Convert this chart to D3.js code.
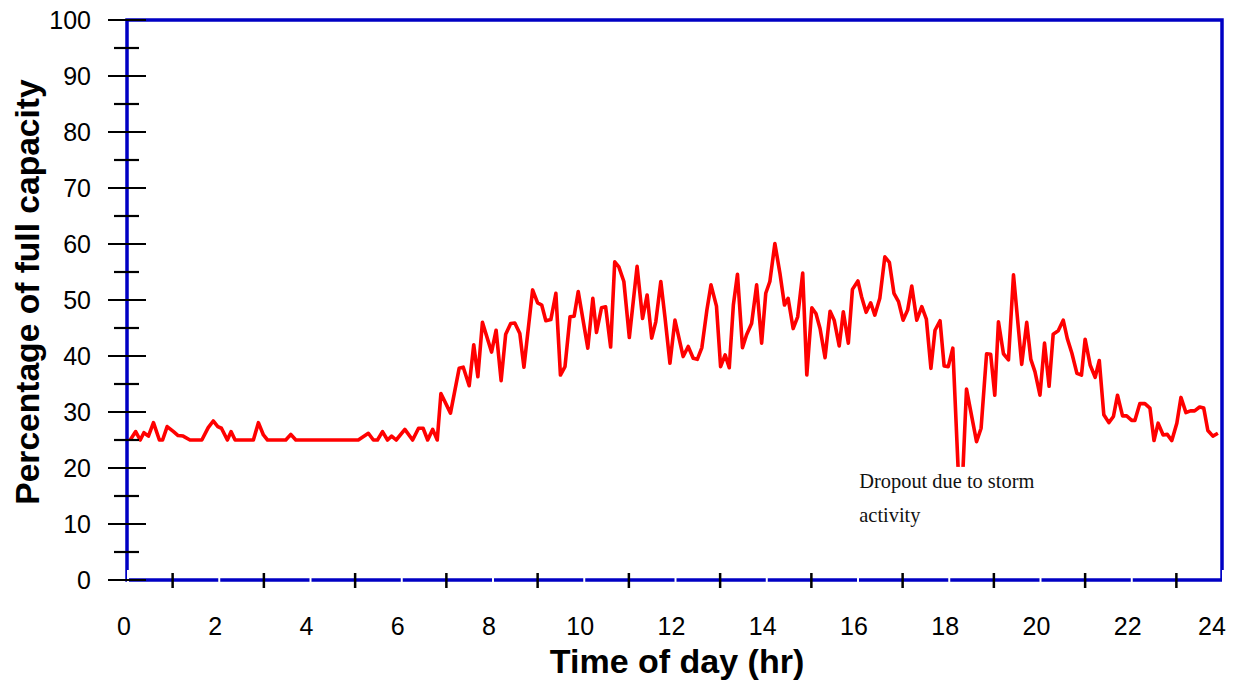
<!DOCTYPE html>
<html>
<head>
<meta charset="utf-8">
<title></title>
<style type="text/css">
    body{
        padding:0;
        margin:0;
        overflow:hidden;
        background:#fff;
    }
</style>
</head>
<body>
<div id="chart"></div>
<script src="https://cdn.jsdelivr.net/npm/d3@7"></script>
<script type="text/javascript">

// time of day (hr) and percentage of full capacity
var hours = [0.07,0.19,0.29,0.37,0.47,0.58,0.71,0.78,0.88,1.02,1.12,1.23,1.38,1.64,1.78,1.89,1.99,2.07,2.20,2.28,
    2.37,2.77,2.88,2.99,3.08,3.48,3.59,3.70,5.07,5.29,5.40,5.49,5.60,5.71,5.80,5.90,6.09,6.26,6.39,6.49,
    6.59,6.70,6.80,6.88,7.09,7.28,7.37,7.50,7.60,7.69,7.79,7.99,8.09,8.20,8.30,8.41,8.50,8.61,8.70,8.89,
    9.00,9.09,9.18,9.29,9.40,9.50,9.60,9.71,9.80,9.89,10.10,10.21,10.29,10.40,10.49,10.60,10.69,10.78,10.89,11.01,
    11.18,11.30,11.40,11.50,11.59,11.70,11.79,11.90,12.01,12.19,12.30,12.41,12.50,12.60,12.71,12.80,12.92,13.01,13.11,13.20,
    13.29,13.38,13.49,13.58,13.69,13.80,13.91,14.00,14.09,14.20,14.31,14.41,14.49,14.60,14.70,14.81,14.90,15.01,15.10,15.19,
    15.30,15.41,15.50,15.61,15.70,15.81,15.90,16.02,16.10,16.20,16.30,16.39,16.50,16.61,16.71,16.81,16.91,17.01,17.11,17.20,
    17.31,17.42,17.52,17.62,17.71,17.82,17.91,18.00,18.10,18.27,18.40,18.62,18.72,18.84,18.93,19.02,19.10,19.21,19.32,19.43,
    19.61,19.72,19.81,19.90,20.01,20.11,20.21,20.30,20.41,20.52,20.61,20.71,20.82,20.92,21.00,21.11,21.22,21.31,21.41,21.52,
    21.62,21.71,21.82,21.91,22.02,22.09,22.20,22.31,22.42,22.51,22.60,22.71,22.80,22.90,23.01,23.10,23.21,23.31,23.40,23.51,
    23.60,23.69,23.80,23.91];

var capacity = [25,26.5,25,26.3,25.7,28.1,25,25,27.4,26.5,25.8,25.7,25,25,27.2,28.4,27.4,27.1,25,26.5,
    25,25,28.1,25.9,25,25,26,25,25,26.2,25,25,26.5,25,25.7,25,26.9,25,27.1,27.1,
    25,26.9,25,33.3,29.8,37.8,38,34.7,42,36.3,46,40.7,44.6,35.6,43.9,45.8,45.9,44,38,51.8,
    49.5,49.1,46.3,46.5,51.2,36.6,38.1,47,47.1,51.5,41.4,50.3,44.2,48.6,48.8,41.6,56.8,55.9,53.3,43.3,
    56,46.7,50.9,43.2,46.1,53.3,47,38.7,46.4,39.9,41.7,39.6,39.4,41.5,48.2,52.7,48.9,38.1,40.2,37.9,
    49.1,54.6,41.5,43.8,45.8,52.7,42.3,51.2,53.3,60.1,54.8,49.1,50.3,44.9,47,54.8,36.6,48.6,47.6,44.9,
    39.7,48,46.4,41.8,47.9,42.3,51.9,53.4,50.6,47.8,49.5,47.3,50.3,57.7,56.7,51.2,49.7,46.4,48.2,52.5,
    46.4,48.8,46.6,37.8,44.6,46.3,38.2,38.1,41.4,10,34.1,24.7,27.1,40.4,40.3,33,46.1,40.4,39.3,54.5,
    38.5,46,39.4,37.2,33,42.3,34.6,43.9,44.5,46.4,43.1,40.5,36.9,36.6,43,38.4,36.2,39.2,29.5,28.1,
    29.2,33,29.3,29.3,28.5,28.5,31.5,31.5,30.7,24.9,28,25.9,26,24.9,28,32.6,29.9,30.2,30.2,30.9,
    30.7,26.7,25.7,26.2];

var xTickLabels = ["0","2","4","6","8","10","12","14","16","18","20","22","24"];
var yTickLabels = ["0","10","20","30","40","50","60","70","80","90","100"];
var noteLines = ["Dropout due to storm", "activity"];

var width = 1245, height = 681;
var plotL = 127, plotR = 1222, plotT = 20, plotB = 580;

var x = d3.scaleLinear().domain([0, 24]).range([plotL, plotR]);
var y = d3.scaleLinear().domain([0, 100]).range([plotB, plotT]);

var svg = d3.select('#chart').append('svg')
    .attr('width', width)
    .attr('height', height);

var data = hours.map(function(h, i){ return [h, capacity[i]]; });

// the series
svg.append('path')
    .datum(data)
    .attr('fill', 'none')
    .attr('stroke', '#ff0000')
    .attr('stroke-width', 3.6)
    .attr('stroke-linejoin', 'round')
    .attr('d', d3.line().x(d => x(d[0])).y(d => y(d[1])));

// annotation, white box covers the bottom of the dropout
var note = svg.append('g').attr('transform', 'translate(' + x(16.05) + ',' + y(20.2) + ')');
note.append('rect')
    .attr('x', -4).attr('y', 0)
    .attr('width', 190).attr('height', 68)
    .attr('fill', '#fff');
note.selectAll('text')
    .data(noteLines)
    .enter().append('text')
    .attr('x', 0)
    .attr('y', (d, i) => 21 + i * 34)
    .style('font-family', '"Liberation Serif", "Times New Roman", serif')
    .style('font-size', '20.4px')
    .attr('fill', '#111')
    .text(d => d);

// frame
var blue = '#0000c4';
svg.append('rect')
    .attr('x', plotL).attr('y', plotT)
    .attr('width', plotR - plotL).attr('height', plotB - plotT)
    .attr('fill', 'none')
    .attr('stroke', blue)
    .attr('stroke-width', 3.5);

// white notches at even hours
svg.selectAll('.notch')
    .data(d3.range(0, 25, 2))
    .enter().append('line')
    .attr('x1', d => x(d) + 1).attr('x2', d => x(d) + 1)
    .attr('y1', plotB - 10).attr('y2', plotB + 3)
    .attr('stroke', '#fff')
    .attr('stroke-width', 2);

// x ticks at odd hours
svg.selectAll('.xtick')
    .data(d3.range(1, 24, 2))
    .enter().append('line')
    .attr('x1', d => x(d)).attr('x2', d => x(d))
    .attr('y1', plotB - 7).attr('y2', plotB + 8)
    .attr('stroke', '#000')
    .attr('stroke-width', 2.5);

// y ticks, both sides of the axis
svg.selectAll('.ytick')
    .data(y.ticks(20))
    .enter().append('line')
    .attr('x1', d => d % 10 === 0 ? plotL - 19 : plotL - 13)
    .attr('x2', d => d % 10 === 0 ? plotL + 19 : plotL + 12)
    .attr('y1', d => y(d)).attr('y2', d => y(d))
    .attr('stroke', '#000')
    .attr('stroke-width', 2.2);

// tick labels
var labelFont = '"Liberation Sans", Arial, sans-serif';
svg.selectAll('.ylab')
    .data(yTickLabels)
    .enter().append('text')
    .attr('x', plotL - 36)
    .attr('y', d => y(+d))
    .attr('dy', '0.35em')
    .attr('text-anchor', 'end')
    .style('font-family', labelFont)
    .style('font-size', '25px')
    .text(d => d);

svg.selectAll('.xlab')
    .data(xTickLabels)
    .enter().append('text')
    .attr('x', d => Math.min(x(+d) - 3, 1212))
    .attr('y', 635)
    .attr('text-anchor', 'middle')
    .style('font-family', labelFont)
    .style('font-size', '25px')
    .text(d => d);

// axis titles
svg.append('text')
    .attr('x', 677).attr('y', 673)
    .attr('text-anchor', 'middle')
    .style('font-family', labelFont)
    .style('font-size', '34px')
    .style('font-weight', 'bold')
    .text('Time of day (hr)');

svg.append('text')
    .attr('transform', 'translate(39,292) rotate(-90)')
    .attr('text-anchor', 'middle')
    .style('font-family', labelFont)
    .style('font-size', '33.6px')
    .style('font-weight', 'bold')
    .text('Percentage of full capacity');

</script>
</body>
</html>
